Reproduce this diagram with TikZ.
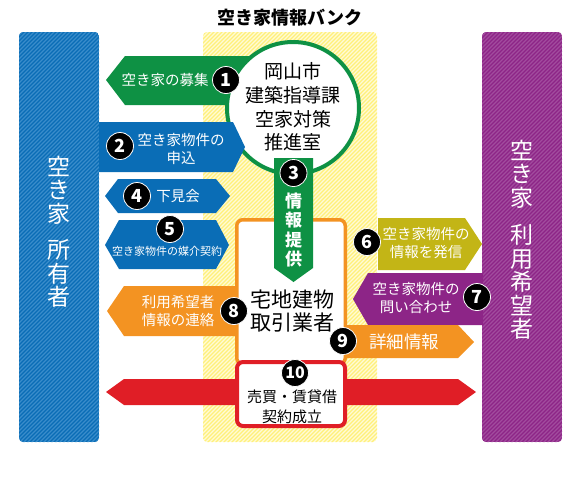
\documentclass[tikz,border=0pt]{standalone}
\usepackage{fontspec}
\setmainfont{Noto Sans CJK JP}
\definecolor{cgreen}{HTML}{0E9144}
\definecolor{cblue}{HTML}{0A6DB6}
\definecolor{cbluest}{HTML}{3A8DCB}
\definecolor{corange}{HTML}{F39322}
\definecolor{colive}{HTML}{C3B516}
\definecolor{cpurple}{HTML}{8D2587}
\definecolor{cpurst}{HTML}{A24C9E}
\definecolor{cred}{HTML}{E01E26}
\definecolor{cyelbg}{HTML}{FFFBD6}
\definecolor{cyelst}{HTML}{FFF07A}
\begin{document}
\begin{tikzpicture}[x=1pt,y=-1pt,
  badge/.style={circle,fill=black,draw=white,line width=0.8pt,minimum size=27pt,inner sep=0pt,text=white,font=\bfseries\fontsize{18}{18}\selectfont},
  wtext/.style={text=white,align=center,inner sep=0pt,font=\fontsize{14.5}{18}\selectfont},
  btext/.style={text=black,align=center,inner sep=0pt},
  vtext/.style={text=white,align=center,inner sep=0pt,font=\fontsize{23}{23.5}\selectfont}]
\useasboundingbox (0,0) rectangle (580,480);
% title
\node[btext,font=\bfseries\fontsize{18}{18}\selectfont] (title) at (290,18) {空き家情報バンク};
% yellow band
\begin{scope}
\clip[rounded corners=4pt] (203,32) rectangle (377,442);
\fill[cyelbg] (203,32) rectangle (377,442);
\foreach \i in {-420,-416,...,380} \draw[cyelst,line width=1.3pt] (\i,450) -- ++(480,-480);
\end{scope}
% left panel
\begin{scope}
\clip[rounded corners=4pt] (19,32) rectangle (99,442);
\fill[cblue] (19,32) rectangle (99,442);
\foreach \i in {-420,-416,...,100} \draw[cbluest,line width=1.1pt] (\i,450) -- ++(480,-480);
\end{scope}
% right panel
\begin{scope}
\clip[rounded corners=4pt] (482,32) rectangle (562,442);
\fill[cpurple] (482,32) rectangle (562,442);
\foreach \i in {60,64,...,580} \draw[cpurst,line width=1.1pt] (\i,450) -- ++(480,-480);
\end{scope}
\node[vtext] (owner) at (59,232) {空\\き\\家\\[13pt]所\\有\\者};
\node[vtext] (user) at (522,240) {空\\き\\家\\[14pt]利\\用\\希\\望\\者};
% arrow 1
\fill[cgreen] (262,56) -- (125,56) -- (106,80) -- (125,105) -- (262,105) -- cycle;
% circle
\draw[cgreen,line width=4pt,fill=white] (293,108) circle (66);
\node[btext,font=\fontsize{19}{23.7}\selectfont] (city) at (293,107) {岡山市\\建築指導課\\空家対策\\推進室};
% blue arrows
\fill[cblue] (99,122) -- (233,122) -- (245,147) -- (233,172) -- (99,172) -- cycle;
\fill[cblue] (118,179) -- (216,179) -- (230,196) -- (216,213) -- (118,213) -- (105,196) -- cycle;
\fill[cblue] (119,220) -- (216,220) -- (229,245) -- (216,269) -- (119,269) -- (105,245) -- cycle;
% orange arrow 8
\fill[corange] (240,286) -- (124,286) -- (107,311) -- (124,336) -- (240,336) -- cycle;
% red double arrow
\fill[cred] (124,379) -- (458,379) -- (476,392) -- (458,405) -- (124,405) -- (106,392) -- cycle;
% orange box
\draw[corange,line width=3.5pt,fill=white,rounded corners=6pt] (236.75,219.75) rectangle (345.25,364);
% green down arrow
\fill[cgreen] (274,158) -- (313,158) -- (313,268) -- (293.5,282) -- (274,268) -- cycle;
% red box
\draw[cred,line width=4pt,fill=white,rounded corners=6pt] (237,362) rectangle (345,426);
% right side arrows
\fill[colive] (378,218) -- (465,218) -- (482,244) -- (465,270) -- (378,270) -- cycle;
\fill[cpurple] (483,273) -- (368,273) -- (353,299) -- (368,325) -- (483,325) -- cycle;
\fill[corange] (345,325) -- (458,325) -- (474,342) -- (458,358) -- (345,358) -- cycle;
% texts
\node[wtext] (t1) at (165,80) {空き家の募集};
\node[wtext] (t2) at (181,149) {空き家物件の\\申込};
\node[wtext] (t4) at (178,196) {下見会};
\node[wtext,font=\fontsize{11}{13}\selectfont] (t5) at (167,251) {空き家物件の媒介契約};
\node[wtext] (t8) at (178,311) {利用希望者\\情報の連絡};
\node[wtext] (t6) at (426,243) {空き家物件の\\情報を発信};
\node[wtext] (t7) at (416,298) {空き家物件の\\問い合わせ};
\node[wtext,font=\fontsize{17.5}{18}\selectfont] (t9) at (404,342) {詳細情報};
\node[wtext,font=\bfseries\fontsize{17}{19.5}\selectfont] (t3) at (293.5,230) {情\\報\\提\\供};
\node[btext,font=\fontsize{21}{23.5}\selectfont] (broker) at (292,311) {宅地建物\\取引業者};
\node[btext,font=\fontsize{15}{20}\selectfont] (deal) at (292,407) {売買・賃貸借\\契約成立};
% badges
\node[badge] (b1) at (226,80) {1};
\node[badge] (b2) at (120,146) {2};
\node[badge] (b3) at (293.5,173) {3};
\node[badge] (b4) at (137,196) {4};
\node[badge] (b5) at (170,229) {5};
\node[badge] (b6) at (367,242) {6};
\node[badge] (b7) at (477,297) {7};
\node[badge] (b8) at (234,311) {8};
\node[badge] (b9) at (343,341) {9};
\node[badge,font=\bfseries\fontsize{16}{16}\selectfont] (b10) at (295,373) {10};
\end{tikzpicture}
\end{document}
